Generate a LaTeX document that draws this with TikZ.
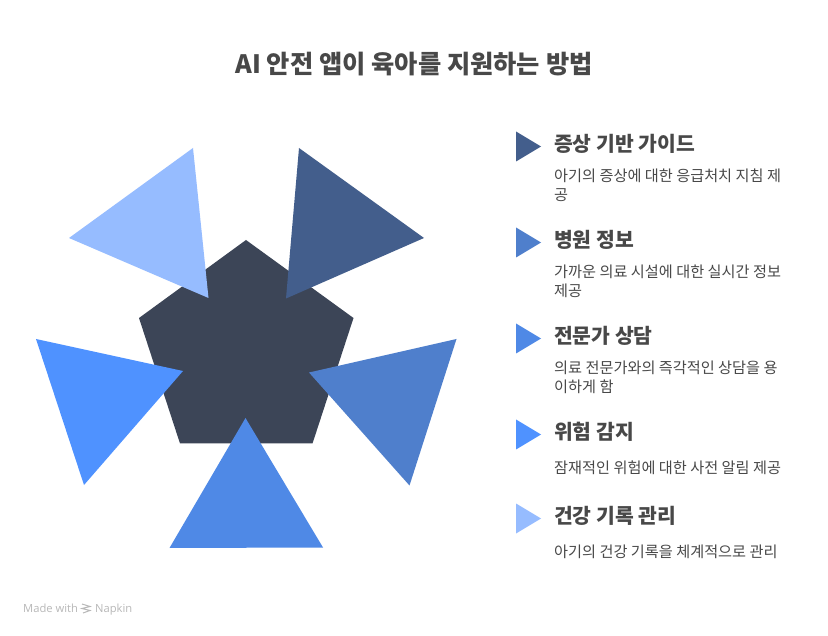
\documentclass[tikz,border=0pt]{standalone}
\usepackage{fontspec}
\setmainfont{Noto Sans CJK KR}
\newfontfamily\latinf{Open Sans}
\definecolor{pent}{HTML}{3C4557}
\definecolor{cA}{HTML}{435E8C}
\definecolor{cB}{HTML}{4F7FCC}
\definecolor{cC}{HTML}{4F89E6}
\definecolor{cD}{HTML}{4F92FF}
\definecolor{cE}{HTML}{96BCFF}
\definecolor{ink}{HTML}{484848}
\tikzset{
  titletext/.style={anchor=base,inner sep=0,text=ink,font=\fontsize{25.3}{28}\selectfont\bfseries},
  headtext/.style={anchor=base west,inner sep=0,text=ink,font=\fontsize{20.4}{24}\selectfont\bfseries},
  bodytext/.style={anchor=base west,inner sep=0,text=ink,font=\fontsize{15.2}{18}\selectfont},
  marktext/.style={anchor=base west,inner sep=0,text=black!28,font=\latinf\fontsize{11.2}{13}\selectfont}
}
\begin{document}
\begin{tikzpicture}[x=1pt,y=-1pt]
\useasboundingbox (0,0) rectangle (828,636);
\fill[white] (0,0) rectangle (828,636);
\fill[pent] (246,240) -- (353.5,318) -- (312.5,443.5) -- (180,443.5) -- (139,318) -- cycle;
\fill[cE] (193,148) -- (69,238) -- (208.5,298) -- cycle;
\fill[cA] (299,148) -- (424,238) -- (286,298.5) -- cycle;
\fill[cB] (456.5,339) -- (309,372.5) -- (409.5,485.5) -- cycle;
\fill[cC] (245.5,418) -- (323,547.5) -- (169.5,548) -- cycle;
\fill[cD] (36,339) -- (183,371) -- (84,485) -- cycle;

\node[titletext] (title) at (414,74) {AI 안전 앱이 육아를 지원하는 방법};

\fill[cA] (516,131.5) -- (541,146.5) -- (516,161.5) -- cycle;
\fill[cB] (516,227.5) -- (541,242.5) -- (516,257.5) -- cycle;
\fill[cC] (516,323.5) -- (541,338.5) -- (516,353.5) -- cycle;
\fill[cD] (516,419.5) -- (541,434.5) -- (516,449.5) -- cycle;
\fill[cE] (516,503.5) -- (541,518.5) -- (516,533.5) -- cycle;

\node[headtext] (h1) at (554,151.5) {증상 기반 가이드};
\node[bodytext] (b1a) at (554,182) {아기의 증상에 대한 응급처치 지침 제};
\node[bodytext] (b1b) at (554,201) {공};
\node[headtext] (h2) at (554,247.5) {병원 정보};
\node[bodytext] (b2a) at (554,278) {가까운 의료 시설에 대한 실시간 정보};
\node[bodytext] (b2b) at (554,297) {제공};
\node[headtext] (h3) at (554,343.5) {전문가 상담};
\node[bodytext] (b3a) at (554,374) {의료 전문가와의 즉각적인 상담을 용};
\node[bodytext] (b3b) at (554,393) {이하게 함};
\node[headtext] (h4) at (554,439.5) {위험 감지};
\node[bodytext] (b4a) at (554,473) {잠재적인 위험에 대한 사전 알림 제공};
\node[headtext] (h5) at (554,523.5) {건강 기록 관리};
\node[bodytext] (b5a) at (554,557) {아기의 건강 기록을 체계적으로 관리};

\node[marktext] (made) at (23,612) {Made with};
\node[marktext] (nap) at (95,612) {Napkin};
\draw[black!28,line width=1pt] (82,604) -- (90,606.5) -- (82,608.5) -- (90,610.5) -- (83,613);
\end{tikzpicture}
\end{document}
